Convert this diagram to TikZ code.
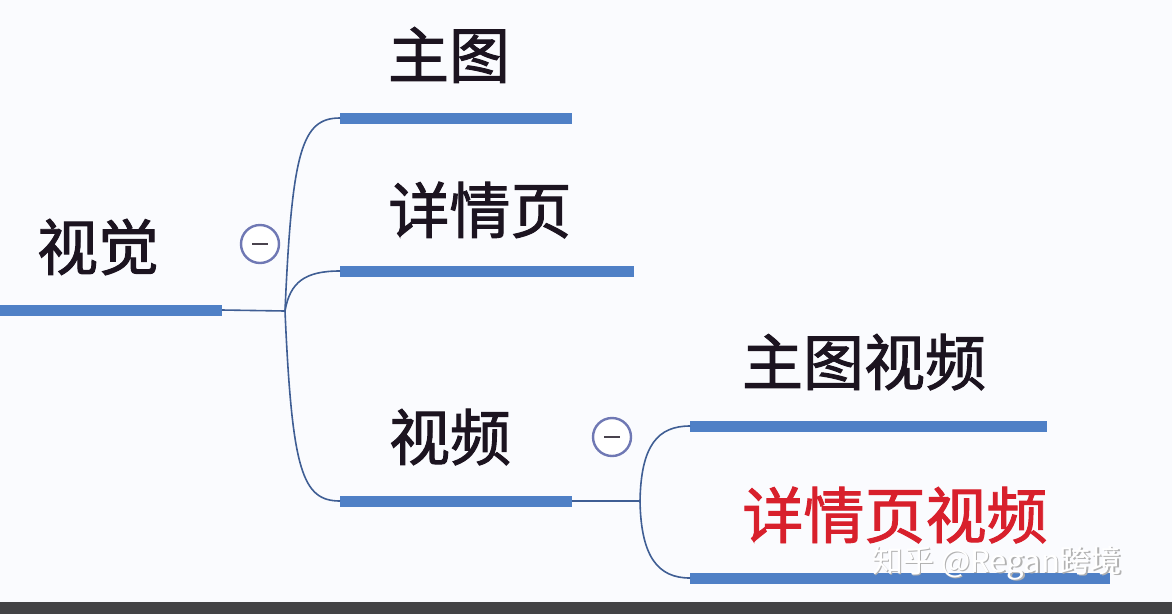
\documentclass[tikz,border=0pt]{standalone}
\usepackage{fontspec}
\newfontfamily\cjk{Noto Sans CJK SC}
\newfontfamily\cjkb{Noto Sans CJK SC}[FakeBold=1.6]
\definecolor{bg}{HTML}{FAFBFE}
\definecolor{barblue}{HTML}{4F80C6}
\definecolor{linkblue}{HTML}{3F5E94}
\definecolor{ringc}{HTML}{6F78B4}
\definecolor{txt}{HTML}{1C1420}
\definecolor{redt}{HTML}{D8202C}
\definecolor{strip}{HTML}{434345}
\tikzset{
  bar/.style={line width=11pt, draw=barblue},
  link/.style={line width=1.6pt, draw=linkblue},
  lbl/.style={font=\cjkb\fontsize{61}{64}\selectfont, text=txt, inner sep=0pt},
  ring/.style={circle, draw=ringc, line width=2.4pt, fill=white, minimum size=38pt, inner sep=0pt},
  minus/.style={line width=1.8pt, draw=txt!80}
}
\begin{document}
\begin{tikzpicture}[x=1pt,y=-1pt]
\useasboundingbox (0,0) rectangle (1172,614);
\fill[bg] (0,0) rectangle (1172,614);
\fill[strip] (0,602) rectangle (1172,614);
% junction coordinates
\coordinate (j1) at (285,311);
\coordinate (j2) at (640,501);
% bars
\coordinate (r0) at (0,310);   \coordinate (r1) at (222,310);
\coordinate (a0) at (340,118); \coordinate (a1) at (572,118);
\coordinate (b0) at (340,271); \coordinate (b1) at (634,271);
\coordinate (c0) at (340,501); \coordinate (c1) at (572,501);
\coordinate (d0) at (690,426); \coordinate (d1) at (1047,426);
\coordinate (e0) at (690,578); \coordinate (e1) at (1110,578);
\draw[bar] (r0) -- (r1);
\draw[bar] (a0) -- (a1);
\draw[bar] (b0) -- (b1);
\draw[bar] (c0) -- (c1);
\draw[bar] (d0) -- (d1);
\draw[bar] (e0) -- (e1);
% links
\draw[link] (r1) -- (j1);
\draw[link] (j1) .. controls (292,150) and (302,118) .. (a0);
\draw[link] (j1) .. controls (290,282) and (305,271) .. (b0);
\draw[link] (j1) .. controls (292,470) and (302,501) .. (c0);
\draw[link] (c1) -- (j2);
\draw[link] (j2) .. controls (641,445) and (658,426) .. (d0);
\draw[link] (j2) .. controls (641,557) and (658,578) .. (e0);
% collapse rings
\node[ring] (o1) at (260,244) {};
\draw[minus] ([xshift=-8pt]o1.center) -- ([xshift=8pt]o1.center);
\node[ring] (o2) at (612,437) {};
\draw[minus] ([xshift=-8pt]o2.center) -- ([xshift=8pt]o2.center);
% labels
\node[lbl] (root) at (98,247) {视觉};
\node[lbl] (n1) at (449,55) {主图};
\node[lbl] (n2) at (480,210) {详情页};
\node[lbl] (n3) at (450,437) {视频};
\node[lbl] (n4) at (864,362) {主图视频};
\node[lbl, text=redt] (n5) at (895,515) {详情页视频};
% watermark
\node[font=\cjk\fontsize{31}{33}\selectfont, text=gray!60] (wms) at (998.5,564.5) {知乎 @Regan跨境};
\node[font=\cjk\fontsize{31}{33}\selectfont, text=white] (wm) at (997,563) {知乎 @Regan跨境};
\end{tikzpicture}
\end{document}
